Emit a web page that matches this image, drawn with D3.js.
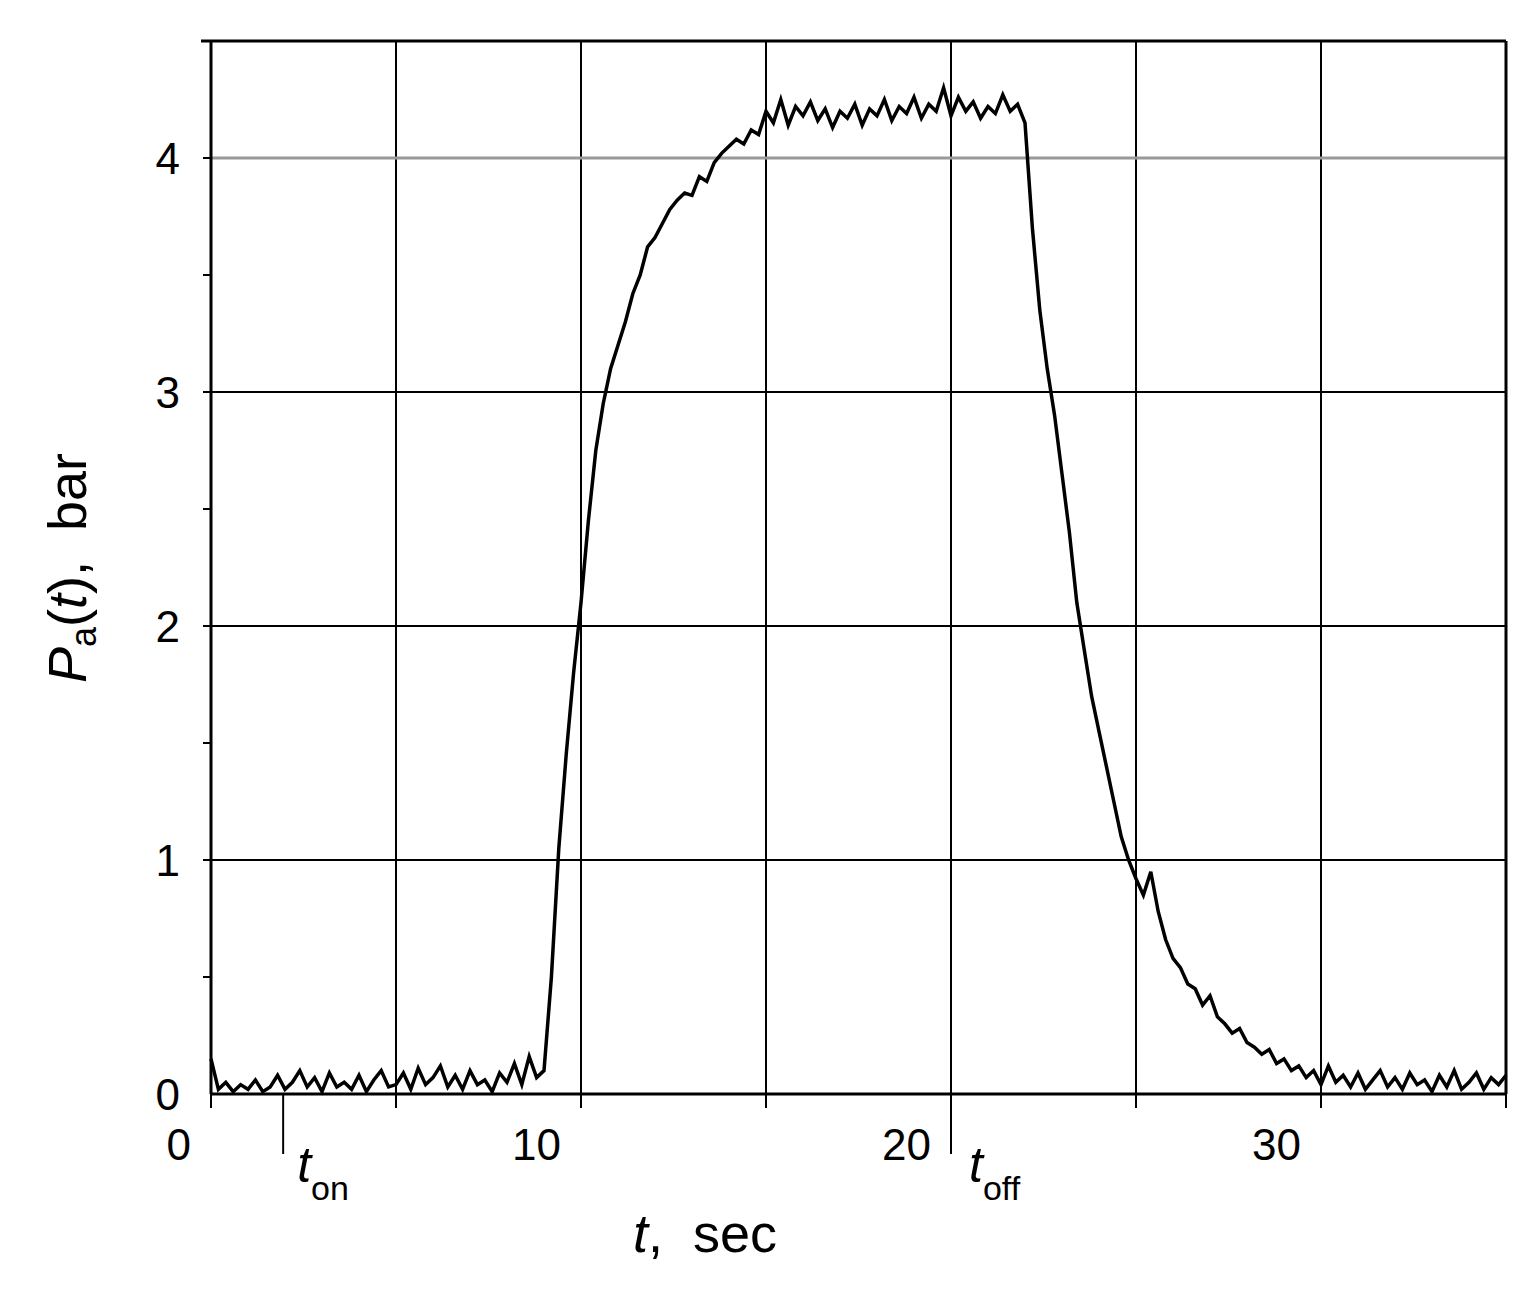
<!DOCTYPE html>
<html><head><meta charset="utf-8">
<script src="https://cdn.jsdelivr.net/npm/d3@7"></script>
<style>body{margin:0;background:#fff;font-family:"Liberation Sans",Arial,sans-serif}</style>
</head><body><svg id="c" width="1540" height="1298"></svg>
<script>
// pressure samples, one every 0.2 s from t = 0
var dt = 0.2;
var pressure = [
 0.15,0.02,0.05,0.01,0.04,0.02,0.06,0.01,0.03,0.08, 0.02,0.05,0.10,0.03,0.07,0.01,0.09,0.03,0.05,0.02,
 0.08,0.01,0.06,0.10,0.03,0.04,0.09,0.02,0.11,0.04, 0.07,0.12,0.03,0.08,0.02,0.10,0.04,0.06,0.01,0.09,
 0.05,0.13,0.04,0.16,0.07,0.10,0.50,1.05,1.45,1.80, 2.10,2.45,2.75,2.95,3.10,3.20,3.30,3.42,3.50,3.62,
 3.66,3.72,3.78,3.82,3.85,3.84,3.92,3.90,3.98,4.02, 4.05,4.08,4.06,4.12,4.10,4.20,4.15,4.25,4.14,4.22,
 4.18,4.24,4.16,4.21,4.13,4.20,4.17,4.23,4.14,4.21, 4.18,4.25,4.16,4.22,4.19,4.26,4.17,4.23,4.20,4.30,
 4.18,4.26,4.20,4.24,4.17,4.22,4.19,4.27,4.20,4.23, 4.15,3.70,3.35,3.10,2.90,2.65,2.40,2.10,1.90,1.70,
 1.55,1.40,1.25,1.10,1.00,0.92,0.85,0.95,0.78,0.66, 0.58,0.54,0.47,0.45,0.38,0.42,0.33,0.30,0.26,0.28,
 0.22,0.20,0.17,0.19,0.13,0.15,0.10,0.12,0.07,0.10, 0.04,0.12,0.05,0.08,0.03,0.09,0.02,0.06,0.10,0.03,
 0.07,0.02,0.09,0.04,0.06,0.01,0.08,0.03,0.10,0.02, 0.05,0.09,0.02,0.07,0.04,0.08
];
var xTicks = [0, 10, 20, 30];
var xGrid = [5, 10, 15, 20, 25, 30];
var yTicks = [0, 1, 2, 3, 4];
var yGrid = [1, 2, 3];
var refLevel = 4;
var tOn = 1.95, tOff = 20.0;

var svg = d3.select("#c");
var x = d3.scaleLinear().domain([0, 35]).range([211, 1506]);
var y = d3.scaleLinear().domain([0, 4.5]).range([1094, 41]);

// grid
svg.selectAll(".gx").data(xGrid).enter().append("line")
  .attr("x1", d => x(d)).attr("x2", d => x(d)).attr("y1", y(0)).attr("y2", y(4.5))
  .attr("stroke", "#000").attr("stroke-width", 2);
svg.selectAll(".gy").data(yGrid).enter().append("line")
  .attr("x1", x(0)).attr("x2", x(35)).attr("y1", d => y(d)).attr("y2", d => y(d))
  .attr("stroke", "#000").attr("stroke-width", 2);
svg.append("line").attr("x1", x(0)).attr("x2", x(35)).attr("y1", y(refLevel)).attr("y2", y(refLevel))
  .attr("stroke", "#999").attr("stroke-width", 3);

// frame
svg.append("line").attr("x1", x(0)).attr("x2", x(0)).attr("y1", y(0)).attr("y2", y(4.5)).attr("stroke", "#000").attr("stroke-width", 3);
svg.append("line").attr("x1", x(0)).attr("x2", x(35)).attr("y1", y(0)).attr("y2", y(0)).attr("stroke", "#000").attr("stroke-width", 3);
svg.append("line").attr("x1", x(0) - 10).attr("x2", x(35)).attr("y1", y(4.5)).attr("y2", y(4.5)).attr("stroke", "#000").attr("stroke-width", 3);
svg.append("line").attr("x1", x(35)).attr("x2", x(35)).attr("y1", y(0)).attr("y2", y(4.5)).attr("stroke", "#000").attr("stroke-width", 3);

// ticks
svg.selectAll(".ty").data(d3.range(0.5, 4.5, 0.5)).enter().append("line")
  .attr("x1", x(0)).attr("x2", x(0) - 8).attr("y1", d => y(d)).attr("y2", d => y(d))
  .attr("stroke", "#000").attr("stroke-width", 2);
svg.selectAll(".tx").data(d3.range(0, 36, 5)).enter().append("line")
  .attr("x1", d => x(d)).attr("x2", d => x(d)).attr("y1", y(0)).attr("y2", y(0) + 14)
  .attr("stroke", "#000").attr("stroke-width", 2);
[tOn, tOff].forEach(t => {
  svg.append("line").attr("x1", x(t)).attr("x2", x(t)).attr("y1", y(0)).attr("y2", y(0) + 60)
    .attr("stroke", "#000").attr("stroke-width", 2);
});

svg.selectAll(".lx").data(xTicks).enter().append("text")
  .attr("x", d => x(d) - 20).attr("y", 1160).attr("text-anchor", "end")
  .attr("font-size", 44).text(d => d);
svg.selectAll(".ly").data(yTicks).enter().append("text")
  .attr("x", 180).attr("y", d => y(d) + 16).attr("text-anchor", "end")
  .attr("font-size", 44).text(d => d);

// t_on / t_off labels
function tlabel(px, sub) {
  var t = svg.append("text").attr("x", px).attr("y", 1182).attr("font-size", 50);
  t.append("tspan").attr("font-style", "italic").text("t");
  t.append("tspan").attr("font-size", 34).attr("dy", 18).text(sub);
}
tlabel(x(tOn) + 14, "on");
tlabel(x(tOff) + 18, "off");

// axis titles
var xt = svg.append("text").attr("x", 705).attr("y", 1252).attr("text-anchor", "middle").attr("font-size", 54);
xt.append("tspan").attr("font-style", "italic").text("t");
xt.append("tspan").text(",\u00a0\u00a0sec");
var yt = svg.append("text").attr("transform", "translate(86,568) rotate(-90)").attr("text-anchor", "middle").attr("font-size", 54);
yt.append("tspan").attr("font-style", "italic").text("P");
yt.append("tspan").attr("font-size", 36).attr("dy", 10).text("a");
yt.append("tspan").attr("dy", -10).text("(");
yt.append("tspan").attr("font-style", "italic").text("t");
yt.append("tspan").text("),\u00a0\u00a0bar");

// signal
var line = d3.line().x((d, i) => x(i * dt)).y(d => y(d));
svg.append("path").datum(pressure).attr("d", line)
  .attr("fill", "none").attr("stroke", "#000").attr("stroke-width", 3.5);
</script></body></html>
